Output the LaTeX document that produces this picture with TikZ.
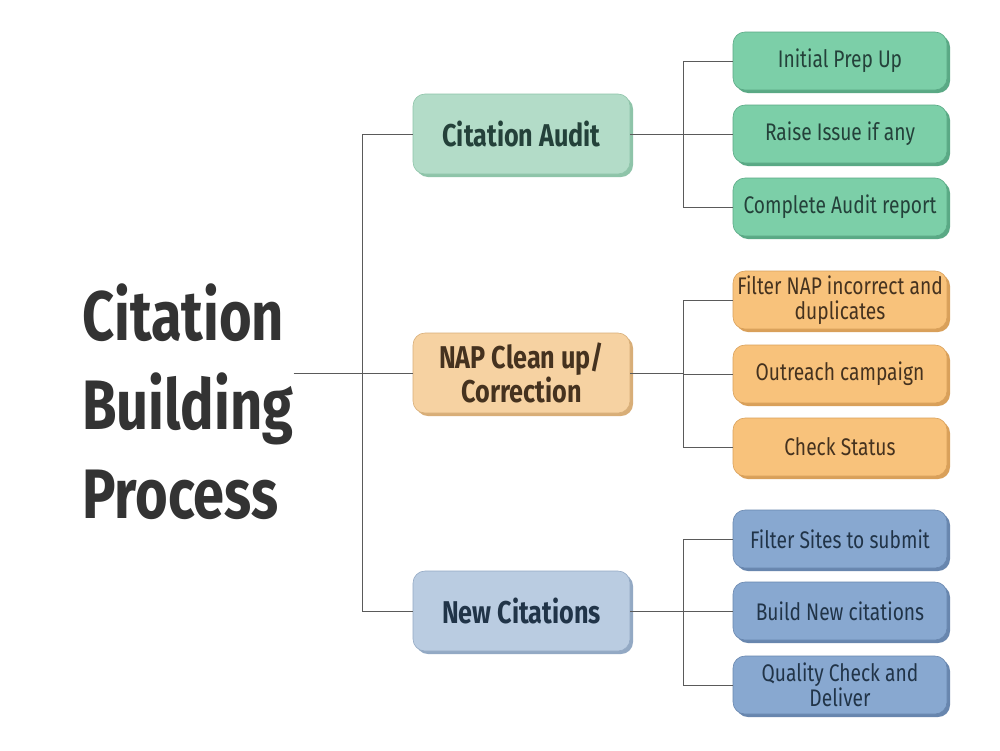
\documentclass[tikz,border=0pt]{standalone}
\usepackage{fontspec}
\setmainfont{Fira Sans}[FakeStretch=0.8]
\usetikzlibrary{shadows}
\definecolor{gmid}{HTML}{B3DCC8}
\definecolor{gmidd}{HTML}{8EC4A9}
\definecolor{gch}{HTML}{7CCFA8}
\definecolor{gchd}{HTML}{5AA985}
\definecolor{gtx}{HTML}{24413A}
\definecolor{omid}{HTML}{F6D2A2}
\definecolor{omidd}{HTML}{D8AE78}
\definecolor{och}{HTML}{F8C27B}
\definecolor{ochd}{HTML}{D9A05A}
\definecolor{otx}{HTML}{45321F}
\definecolor{bmid}{HTML}{BACCE1}
\definecolor{bmidd}{HTML}{93A9C4}
\definecolor{bch}{HTML}{88A8D0}
\definecolor{bchd}{HTML}{6886AE}
\definecolor{btx}{HTML}{213448}
\definecolor{ttx}{HTML}{333333}
\definecolor{ln}{HTML}{5A5A5A}
\tikzset{
  box/.style={rounded corners=12pt, align=center, inner sep=2pt, line width=0.6pt},
  midbox/.style 2 args={box, minimum width=217pt, minimum height=80pt, fill=#1, draw=#2,
     general shadow={shadow xshift=3pt, shadow yshift=-3pt, fill=#2},
     font=\fontsize{31.5}{30}\selectfont\bfseries},
  chbox/.style 2 args={box, minimum width=214pt, minimum height=58pt, fill=#1, draw=#2,
     general shadow={shadow xshift=3pt, shadow yshift=-3pt, fill=#2},
     font=\fontsize{24}{24.5}\selectfont},
  conn/.style={draw=ln, line width=0.9pt},
}
\begin{document}
\begin{tikzpicture}[x=1pt,y=-1pt]
\useasboundingbox[fill=white] (0,0) rectangle (1000,750);
\node[anchor=west, align=left, inner sep=0pt, text=ttx,
      font=\fontsize{70}{89}\selectfont\bfseries] (title) at (82,402)
      {Citation\\Building\\Process};
% middle boxes
\node[midbox={gmid}{gmidd}, text=gtx] (ca) at (521.5,134) {Citation Audit};
\node[midbox={omid}{omidd}, text=otx] (nap) at (521.5,373) {NAP Clean up/\\Correction};
\node[midbox={bmid}{bmidd}, text=btx] (nc) at (521.5,611) {New Citations};
% children
\node[chbox={gch}{gchd}, text=gtx] (g1) at (840,61) {Initial Prep Up};
\node[chbox={gch}{gchd}, text=gtx] (g2) at (840,134) {Raise Issue if any};
\node[chbox={gch}{gchd}, text=gtx] (g3) at (840,207) {Complete Audit report};
\node[chbox={och}{ochd}, text=otx] (o1) at (840,300) {Filter NAP incorrect and\\duplicates};
\node[chbox={och}{ochd}, text=otx] (o2) at (840,374) {Outreach campaign};
\node[chbox={och}{ochd}, text=otx] (o3) at (840,447) {Check Status};
\node[chbox={bch}{bchd}, text=btx] (b1) at (840,539) {Filter Sites to submit};
\node[chbox={bch}{bchd}, text=btx] (b2) at (840,611) {Build New citations};
\node[chbox={bch}{bchd}, text=btx] (b3) at (840,685) {Quality Check and\\Deliver};
% connectors
\draw[conn] (title.east |- nap.west) -- (nap.west);
\draw[conn] (ca.west) -- (ca.west -| 362,0) -- (nc.west -| 362,0) -- (nc.west);
\draw[conn] (ca.east) -- (ca.east -| 683,0);
\draw[conn] (g1.west) -- (g1.west -| 683,0) -- (g3.west -| 683,0) -- (g3.west);
\draw[conn] (g2.west) -- (g2.west -| 683,0);
\draw[conn] (nap.east) -- (nap.east -| 683,0);
\draw[conn] (o1.west) -- (o1.west -| 683,0) -- (o3.west -| 683,0) -- (o3.west);
\draw[conn] (o2.west) -- (o2.west -| 683,0);
\draw[conn] (nc.east) -- (nc.east -| 683,0);
\draw[conn] (b1.west) -- (b1.west -| 683,0) -- (b3.west -| 683,0) -- (b3.west);
\draw[conn] (b2.west) -- (b2.west -| 683,0);
\end{tikzpicture}
\end{document}
